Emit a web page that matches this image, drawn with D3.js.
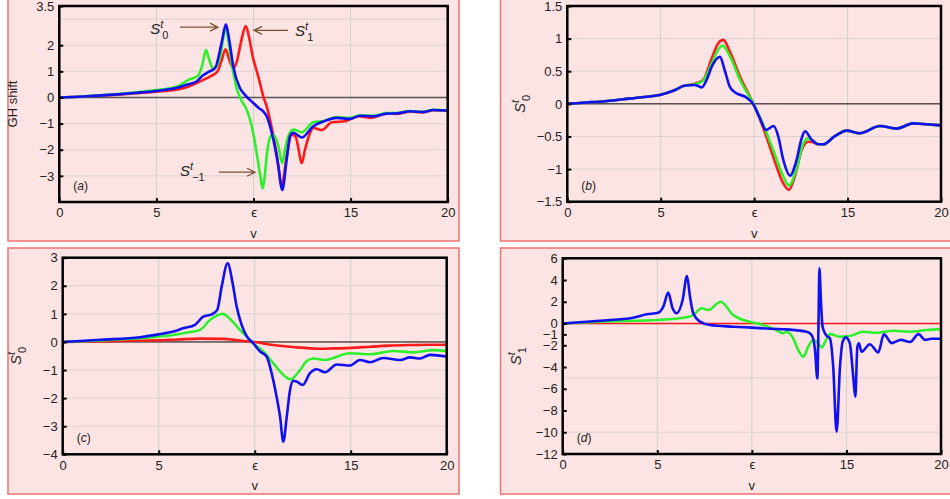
<!DOCTYPE html>
<html>
<head>
<meta charset="utf-8">
<script src="https://cdn.jsdelivr.net/npm/d3@7"></script>
<style>
  body { margin: 0; background: #fff; }
  text { font-family: "Liberation Sans", Arial, sans-serif; }
</style>
</head>
<body>
<svg id="chart" width="950" height="499"></svg>
<script>
// x axis shared by all panels
const xTicks = [0, 5, 10, 15, 20];
const xTickLabels = ["0", "5", "\u03f5", "15", "20"];
const xGrid = [5, 10, 15];

// panel (a): GH shift
const aYTicks = [3.5, 2, 1, 0, -1, -2, -3];
const aYGrid = [3, 2, 1, -1, -2, -3];
const aRed = [[0,0],[1,0.03],[2,0.07],[3,0.11],[4,0.16],[5,0.22],[6,0.3],[6.6,0.4],[7.07,0.55],[7.5,0.7],[7.76,0.8],[8.14,0.99],[8.35,1.4],[8.56,1.84],[8.75,1.45],[8.96,1.12],[9.15,1.4],[9.35,2.1],[9.6,2.73],[9.8,2.2],[9.95,1.6],[10.15,1.05],[10.3,0.65],[10.5,0.05],[10.7,-0.4],[10.95,-1.2],[11.2,-2.2],[11.45,-3.38],[11.71,-2.24],[11.97,-1.42],[12.17,-1.5],[12.3,-1.9],[12.48,-2.52],[12.65,-2.0],[12.82,-1.55],[13.08,-1.17],[13.51,-1.25],[14.03,-0.95],[14.71,-0.91],[15.39,-0.72],[16.0,-0.78],[16.86,-0.62],[17.37,-0.63],[18.06,-0.54],[18.75,-0.56],[19.26,-0.49],[20,-0.5]];
const aGreen = [[0,0],[1,0.03],[2,0.08],[3,0.13],[4,0.2],[5,0.28],[6,0.4],[6.73,0.7],[7.14,0.83],[7.35,1.2],[7.55,1.81],[7.72,1.45],[7.9,1.12],[8.1,1.2],[8.28,1.56],[8.45,2.3],[8.58,2.7],[8.72,2.1],[8.88,1.31],[9.13,0.36],[9.36,-0.09],[9.65,-0.47],[9.91,-1.1],[10.16,-2.11],[10.35,-3.0],[10.47,-3.48],[10.58,-3.0],[10.68,-2.24],[10.88,-1.48],[11.02,-1.42],[11.28,-1.86],[11.48,-2.52],[11.62,-2.0],[11.79,-1.48],[12.05,-1.23],[12.48,-1.33],[13.08,-0.95],[13.6,-0.9],[14.28,-0.75],[14.97,-0.78],[15.49,-0.68],[16.17,-0.7],[16.86,-0.6],[17.37,-0.6],[18.06,-0.52],[18.75,-0.55],[19.26,-0.47],[20,-0.5]];
const aBlue = [[0,0],[1,0.03],[2,0.07],[3,0.12],[4,0.18],[5,0.25],[6,0.36],[6.6,0.5],[7.07,0.61],[7.4,0.85],[7.67,0.97],[8.02,1.12],[8.36,2.1],[8.58,2.8],[8.75,2.2],[8.96,1.18],[9.3,0.36],[9.56,0.1],[9.99,-0.21],[10.3,-0.42],[10.5,-0.53],[10.68,-0.72],[11.02,-1.61],[11.28,-2.62],[11.48,-3.54],[11.71,-2.37],[11.88,-1.48],[12.05,-1.35],[12.48,-1.53],[13.08,-1.1],[13.6,-0.92],[14.28,-0.78],[14.97,-0.82],[15.49,-0.7],[16.17,-0.72],[16.86,-0.62],[17.37,-0.61],[18.06,-0.53],[18.75,-0.56],[19.26,-0.48],[20,-0.5]];

// panel (b)
const bYTicks = [1.5, 1, 0.5, 0, -0.5, -1, -1.5];
const bYGrid = [1, 0.5, -0.5, -1];
const bTail = [[13.44,-0.62],[13.7,-0.62],[14.3,-0.5],[14.95,-0.41],[15.66,-0.45],[16.73,-0.34],[17.62,-0.38],[18.51,-0.3],[19.05,-0.31],[20,-0.33]];
const bRed = [[0,0],[1,0.02],[2,0.04],[3,0.07],[4,0.1],[5,0.14],[5.67,0.2],[6.3,0.28],[6.83,0.31],[7.28,0.37],[7.73,0.7],[8.08,0.93],[8.35,0.98],[8.7,0.8],[9.24,0.42],[9.96,0],[10.49,-0.37],[11.02,-0.81],[11.56,-1.22],[11.86,-1.32],[12.18,-1.11],[12.54,-0.71],[12.9,-0.58],[13.17,-0.59]].concat(bTail);
const bGreen = [[0,0],[1,0.02],[2,0.04],[3,0.07],[4,0.1],[5,0.14],[5.67,0.2],[6.3,0.28],[6.83,0.3],[7.28,0.36],[7.73,0.62],[8.05,0.82],[8.31,0.89],[8.7,0.73],[9.24,0.37],[9.96,0],[10.49,-0.32],[11.02,-0.71],[11.56,-1.11],[11.86,-1.25],[12.27,-1.0],[12.63,-0.61],[12.9,-0.53],[13.2,-0.58]].concat(bTail);
const bBlue = [[0,0],[1,0.02],[2,0.04],[3,0.07],[4,0.1],[5,0.14],[5.67,0.2],[6.3,0.28],[6.83,0.29],[7.19,0.25],[7.46,0.37],[7.73,0.57],[8.17,0.72],[8.44,0.5],[8.7,0.26],[9.06,0.16],[9.51,0.11],[9.96,-0.01],[10.31,-0.22],[10.63,-0.4],[11.05,-0.34],[11.29,-0.5],[11.56,-0.86],[11.92,-1.1],[12.27,-0.86],[12.54,-0.53],[12.72,-0.42],[13.08,-0.55]].concat(bTail);

// panel (c)
const cYTicks = [3, 2, 1, 0, -1, -2, -3, -4];
const cYGrid = [2, 1, -1, -2, -3];
const cRed = [[0,0],[2,0.02],[4,0.05],[5,0.06],[6,0.09],[7.15,0.12],[8.36,0.11],[9.23,0.05],[9.93,0],[10.97,-0.11],[12,-0.18],[13.4,-0.24],[14.1,-0.23],[15,-0.21],[16,-0.17],[17,-0.13],[18,-0.11],[19,-0.1],[20,-0.1]];
const cGreen = [[0,0],[2,0.05],[4.03,0.13],[5,0.19],[5.76,0.25],[6.45,0.33],[7.15,0.43],[7.67,0.78],[8.33,1.0],[8.8,0.76],[9.23,0.43],[9.58,0.19],[9.93,-0.05],[10.45,-0.34],[10.97,-0.76],[11.49,-1.17],[11.87,-1.33],[12.36,-1.0],[12.71,-0.68],[13.05,-0.59],[13.66,-0.64],[14.96,-0.4],[16,-0.44],[17.22,-0.32],[18.26,-0.37],[19.3,-0.29],[20,-0.32]];
const cBlue = [[0,0],[2,0.08],[4.03,0.17],[5,0.27],[5.76,0.37],[6.28,0.49],[6.89,0.61],[7.32,0.9],[7.76,0.98],[8.05,1.14],[8.28,1.97],[8.59,2.8],[8.85,2.09],[9.06,1.26],[9.32,0.61],[9.58,0.21],[9.93,-0.05],[10.28,-0.34],[10.62,-0.52],[10.88,-1.11],[11.14,-1.95],[11.32,-2.66],[11.49,-3.55],[11.67,-2.66],[11.84,-1.71],[12.01,-1.38],[12.18,-1.41],[12.5,-1.53],[12.88,-1.11],[13.23,-0.97],[13.66,-1.08],[14.27,-0.8],[14.96,-0.84],[15.48,-0.64],[16,-0.72],[16.7,-0.57],[17.57,-0.64],[18.09,-0.55],[18.61,-0.59],[19.13,-0.46],[20,-0.52]];

// panel (d)
const dYTicks = [6, 4, 2, 0, -1, -2, -4, -6, -8, -10, -12];
const dYGrid = [-5, -10];
const dRed = [[0,0],[20,0]];
const dGreen = [[0,0],[1.97,0.17],[5.05,0.32],[6.55,0.57],[6.9,0.77],[7.34,1.4],[7.7,1.25],[8.35,2.01],[9.02,0.77],[9.55,0.32],[10.25,0.02],[10.96,-0.35],[11.4,-0.7],[11.66,-0.9],[11.84,-0.75],[12.19,-1.37],[12.45,-2.44],[12.72,-3.05],[12.98,-2.13],[13.25,-1.52],[13.51,-1.82],[13.69,-2.2],[13.92,-1.52],[14.13,-0.97],[14.66,-1.21],[15.18,-1.15],[15.89,-0.75],[16.59,-0.85],[17.48,-0.66],[18.36,-0.75],[19.24,-0.6],[20,-0.51]];
const dBlue = [[0,0],[1.97,0.26],[3.73,0.54],[4.44,0.85],[5.05,1.0],[5.32,1.55],[5.58,2.84],[5.81,1.4],[6.02,0.94],[6.34,2.16],[6.57,4.37],[6.73,2.47],[6.9,0.94],[7.26,0.17],[7.78,-0.14],[9.02,-0.29],[10,-0.38],[11,-0.48],[11.84,-0.54],[12.9,-0.75],[13.16,-1.06],[13.34,-2.44],[13.46,-5.04],[13.53,0.63],[13.57,5.08],[13.65,2.16],[13.74,-0.3],[13.92,-1.06],[14.13,-1.37],[14.3,-3.97],[14.48,-9.95],[14.66,-3.97],[14.8,-1.67],[14.97,-1.27],[15.18,-1.82],[15.36,-4.89],[15.47,-6.73],[15.58,-2.13],[15.66,-1.82],[15.8,-2.59],[16.24,-1.9],[16.68,-2.66],[16.98,-1.0],[17.4,-1.8],[17.88,-1.5],[18.37,-1.7],[18.81,-0.97],[19.16,-1.5],[19.5,-1.4],[20,-1.4]];

const colors = ["#ff1a1a", "#2cf02c", "#1010f0"];

const svg = d3.select("#chart");

const panels = [
  {tag: "a", frame: [8, -5, 451, 246], plot: [59.3, 6, 447.7, 202], yDomain: [-4, 3.5],
   yTicks: aYTicks, yGrid: aYGrid, series: [aRed, aGreen, aBlue], yLabel: "GH shift", zero: "#555"},
  {tag: "b", frame: [500.5, -5, 460, 246], plot: [567.3, 6, 941, 201.7], yDomain: [-1.5, 1.5],
   yTicks: bYTicks, yGrid: bYGrid, series: [bRed, bGreen, bBlue], yLabel: ["S", "t", "0"], zero: "#000"},
  {tag: "c", frame: [8, 248, 451, 246], plot: [62.7, 257.7, 446.7, 454.3], yDomain: [-4, 3],
   yTicks: cYTicks, yGrid: cYGrid, series: [cRed, cGreen, cBlue], yLabel: ["S", "t", "0"], zero: "#000"},
  {tag: "d", frame: [500.5, 248, 460, 246], plot: [562.7, 258.3, 941, 454], yDomain: [-12, 6],
   yTicks: dYTicks, yGrid: dYGrid, series: [dRed, dGreen, dBlue], yLabel: ["S", "t", "1"], zero: "#000"}
];

const fmt = t => (t < 0 ? "\u2212" : "") + Math.abs(t);

// S with superscript t and subscript n
const addS = (text, sub, small) => {
  text.append("tspan").attr("font-style", "italic").text("S");
  text.append("tspan").attr("font-style", "italic").attr("font-size", small).attr("dy", -6).text("t");
  text.append("tspan").attr("font-size", small).attr("dx", -1).attr("dy", 11).text(sub);
};

panels.forEach(p => {
  const [x0, y0, x1, y1] = p.plot;
  const g = svg.append("g");

  g.append("rect")
    .attr("x", p.frame[0]).attr("y", p.frame[1])
    .attr("width", p.frame[2]).attr("height", p.frame[3])
    .attr("fill", "#fde4e4").attr("stroke", "#f07070").attr("stroke-width", 1.5);

  const x = d3.scaleLinear().domain([0, 20]).range([x0, x1]);
  const y = d3.scaleLinear().domain(p.yDomain).range([y1, y0]);

  // grid
  g.selectAll("line.vg").data(xGrid).join("line")
    .attr("x1", d => x(d)).attr("x2", d => x(d)).attr("y1", y0).attr("y2", y1)
    .attr("stroke", "#cfcfcf").attr("stroke-width", 1);
  g.selectAll("line.hg").data(p.yGrid).join("line")
    .attr("x1", x0).attr("x2", x1).attr("y1", d => y(d)).attr("y2", d => y(d))
    .attr("stroke", "#d8d2d2").attr("stroke-width", 1);

  // zero line
  g.append("line")
    .attr("x1", x0).attr("x2", x1).attr("y1", y(0)).attr("y2", y(0))
    .attr("stroke", p.zero).attr("stroke-width", p.zero === "#555" ? 1.5 : 1);

  // curves
  const line = d3.line()
    .curve(d3.curveMonotoneX)
    .x(d => x(d[0]))
    .y(d => y(d[1]));
  g.selectAll("path.curve").data(p.series).join("path")
    .attr("class", "curve")
    .attr("d", d => line(d))
    .attr("fill", "none")
    .attr("stroke", (d, i) => colors[i])
    .attr("stroke-width", (d, i) => p.tag === "d" && i === 0 ? 1.6 : 2.6)
    .attr("stroke-linejoin", "round");

  // axes
  const yAxis = d3.axisLeft(y).tickValues(p.yTicks).tickFormat(fmt).tickSize(-4).tickPadding(5);
  const ya = g.append("g").attr("transform", `translate(${x0},0)`).call(yAxis);
  const xAxis = d3.axisBottom(x).tickValues(xTicks).tickFormat((d, i) => xTickLabels[i]).tickSize(-4).tickPadding(6);
  const xa = g.append("g").attr("transform", `translate(0,${y1})`).call(xAxis);
  [ya, xa].forEach(a => {
    a.select(".domain").remove();
    a.selectAll(".tick line").attr("stroke", "#000").attr("stroke-width", 2);
    a.selectAll("text").attr("font-size", "13px").attr("fill", "#222")
      .attr("font-family", "'Liberation Sans', Arial, sans-serif");
  });

  // plot frame
  g.append("rect")
    .attr("x", x0).attr("y", y0).attr("width", x1 - x0).attr("height", y1 - y0)
    .attr("fill", "none").attr("stroke", "#000").attr("stroke-width", 2.5);

  // x label
  g.append("text")
    .attr("x", x(10)).attr("y", y1 + 36)
    .attr("text-anchor", "middle").attr("font-size", "13px").attr("fill", "#222")
    .text("v");

  // y label
  const yl = g.append("text")
    .attr("transform", `translate(${x0 - 42},${(y0 + y1) / 2}) rotate(-90)`)
    .attr("text-anchor", "middle").attr("font-size", p.tag === "a" ? "13px" : "15px").attr("fill", "#222");
  if (typeof p.yLabel === "string") yl.text(p.yLabel);
  else addS(yl, p.yLabel[2], "11px");

  // panel tag
  const tg = g.append("text")
    .attr("x", x0 + 14).attr("y", y1 - 12)
    .attr("font-size", "12px").attr("fill", "#222");
  tg.append("tspan").text("(");
  tg.append("tspan").attr("font-style", "italic").text(p.tag);
  tg.append("tspan").text(")");

  // annotations for panel (a)
  if (p.tag === "a") {
    const notes = [
      {sub: "0", tx: 4.68, ty: 2.42, from: [6.22, 2.69], to: [8.17, 2.69]},
      {sub: "1", tx: 12.14, ty: 2.35, from: [11.78, 2.57], to: [10.03, 2.57]},
      {sub: "\u22121", tx: 6.22, ty: -3.02, from: [8.22, -2.86], to: [10.08, -2.86]}
    ];
    notes.forEach(n => {
      const t = g.append("text")
        .attr("x", x(n.tx)).attr("y", y(n.ty))
        .attr("font-size", "15px").attr("fill", "#222");
      addS(t, n.sub, "11px");
      const ax0 = x(n.from[0]), ax1 = x(n.to[0]), ay = y(n.from[1]);
      const dir = ax1 > ax0 ? 1 : -1;
      g.append("path")
        .attr("d", `M${ax0},${ay}L${ax1},${ay}M${ax1 - dir * 8},${ay - 4}L${ax1},${ay}L${ax1 - dir * 8},${ay + 4}`)
        .attr("fill", "none").attr("stroke", "#7a5230").attr("stroke-width", 1.3);
    });
  }
});
</script>
</body>
</html>
